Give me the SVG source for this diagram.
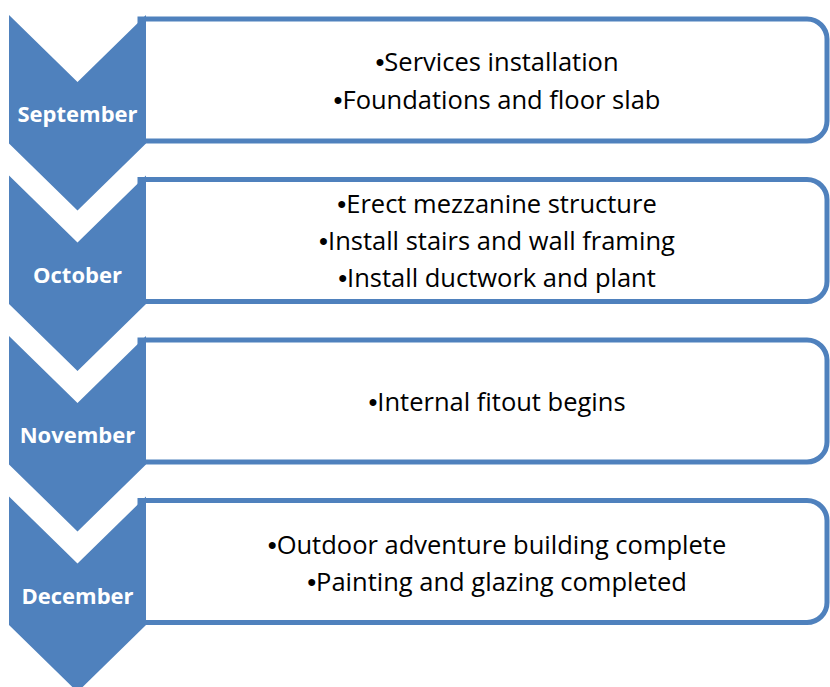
<svg xmlns="http://www.w3.org/2000/svg" width="830" height="687" viewBox="0 0 830 687">
<style>
.box{fill:#FFFFFF;stroke:#4F81BD;stroke-width:5}
.chev{fill:#4F81BD}
.month{font-family:"Open Sans","Liberation Sans",sans-serif;font-weight:bold;font-size:22px;fill:#FFFFFF;text-anchor:middle}
.item{font-family:"Open Sans","Liberation Sans",sans-serif;font-size:25.5px;fill:#000000;text-anchor:middle}
.b{font-family:"Liberation Sans",sans-serif}
</style>
<rect width="830" height="687" fill="#FFFFFF"/>
<g id="connectors"></g>
<g id="node-september">
<path class="box" d="M140,19 H807 A20,20 0 0 1 827,39 V121 A20,20 0 0 1 807,141 H140 Z"/>
<polygon class="chev" points="9,15 77.5,82 146,15 146,143.5 77.5,210.5 9,143.5"/>
<text class="month" x="77.5" y="122">September</text>
<text class="item" x="497" y="71"><tspan class="b">•</tspan>Services installation</text>
<text class="item" x="497" y="109"><tspan class="b">•</tspan>Foundations and floor slab</text>
</g>
<g id="node-october">
<path class="box" d="M140,179.5 H807 A20,20 0 0 1 827,199.5 V281.5 A20,20 0 0 1 807,301.5 H140 Z"/>
<polygon class="chev" points="9,175.5 77.5,242.5 146,175.5 146,304 77.5,371 9,304"/>
<text class="month" x="77.5" y="283">October</text>
<text class="item" x="497" y="213"><tspan class="b">•</tspan>Erect mezzanine structure</text>
<text class="item" x="497" y="250"><tspan class="b">•</tspan>Install stairs and wall framing</text>
<text class="item" x="497" y="287"><tspan class="b">•</tspan>Install ductwork and plant</text>
</g>
<g id="node-november">
<path class="box" d="M140,340 H807 A20,20 0 0 1 827,360 V442 A20,20 0 0 1 807,462 H140 Z"/>
<polygon class="chev" points="9,336 77.5,403 146,336 146,464.5 77.5,531.5 9,464.5"/>
<text class="month" x="77.5" y="443">November</text>
<text class="item" x="497" y="411"><tspan class="b">•</tspan>Internal fitout begins</text>
</g>
<g id="node-december">
<path class="box" d="M140,500.5 H807 A20,20 0 0 1 827,520.5 V602.5 A20,20 0 0 1 807,622.5 H140 Z"/>
<polygon class="chev" points="9,496.5 77.5,563.5 146,496.5 146,625 77.5,692 9,625"/>
<text class="month" x="77.5" y="604">December</text>
<text class="item" x="497" y="554"><tspan class="b">•</tspan>Outdoor adventure building complete</text>
<text class="item" x="497" y="591"><tspan class="b">•</tspan>Painting and glazing completed</text>
</g>
</svg>
